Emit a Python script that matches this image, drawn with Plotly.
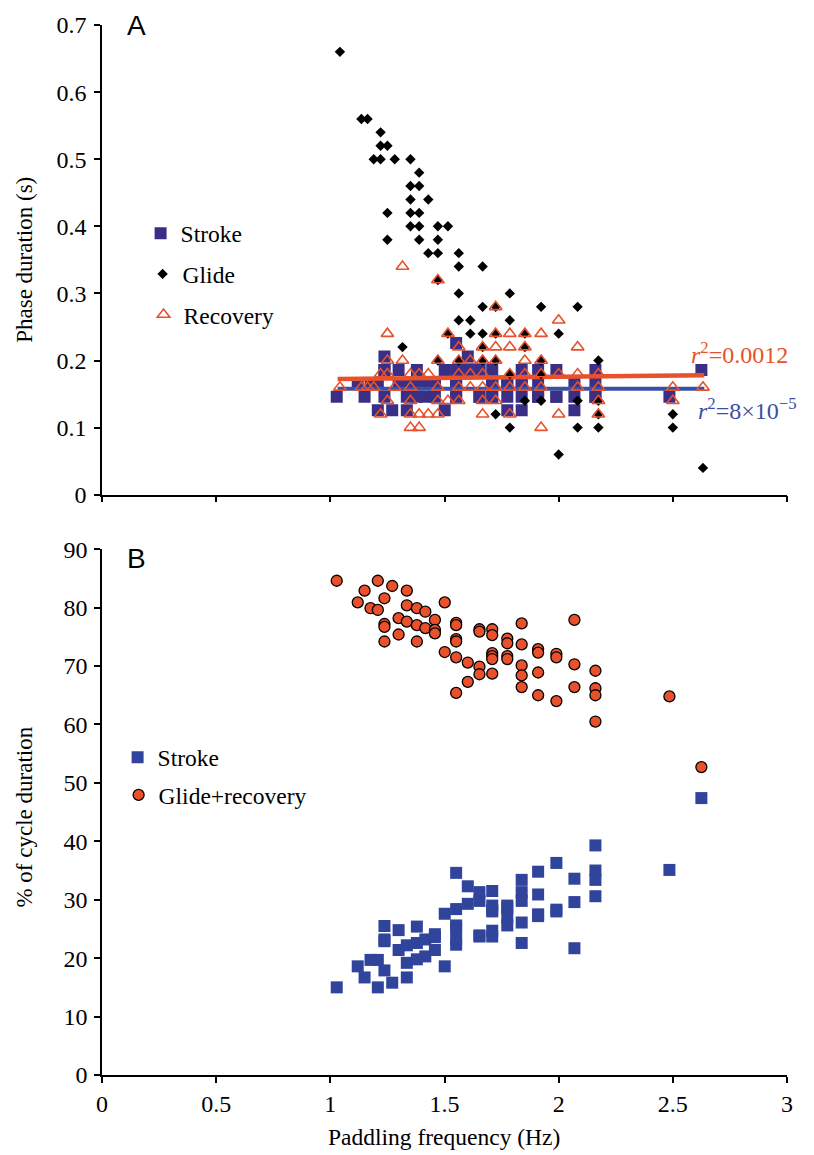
import plotly.graph_objects as go

# ---------------- Panel A data (phase durations, s) ----------------
glide_freq = [1.042,
              1.136, 1.163,
              1.190,
              1.220, 1.220, 1.220,
              1.250, 1.250, 1.250,
              1.282,
              1.316,
              1.351, 1.351, 1.351, 1.351, 1.351,
              1.389, 1.389, 1.389, 1.389, 1.389,
              1.429, 1.429,
              1.471, 1.471, 1.471, 1.471, 1.471,
              1.515, 1.515,
              1.5625, 1.5625, 1.5625, 1.5625, 1.5625,
              1.613, 1.613,
              1.667, 1.667, 1.667, 1.667, 1.667,
              1.724, 1.724, 1.724, 1.724,
              1.786, 1.786, 1.786, 1.786,
              1.852, 1.852, 1.852,
              1.923, 1.923, 1.923, 1.923,
              2.000, 2.000,
              2.083, 2.083, 2.083,
              2.174, 2.174, 2.174, 2.174,
              2.500, 2.500,
              2.632]
glide_dur = [0.66,
             0.56, 0.56,
             0.50,
             0.54, 0.52, 0.50,
             0.52, 0.42, 0.38,
             0.50,
             0.22,
             0.50, 0.46, 0.44, 0.42, 0.40,
             0.48, 0.46, 0.42, 0.40, 0.38,
             0.44, 0.36,
             0.40, 0.38, 0.36, 0.32, 0.20,
             0.40, 0.24,
             0.36, 0.34, 0.30, 0.26, 0.20,
             0.26, 0.24,
             0.34, 0.28, 0.24, 0.22, 0.20,
             0.28, 0.24, 0.20, 0.12,
             0.30, 0.26, 0.18, 0.10,
             0.24, 0.22, 0.14,
             0.28, 0.20, 0.18, 0.14,
             0.24, 0.06,
             0.28, 0.14, 0.10,
             0.20, 0.14, 0.12, 0.10,
             0.12, 0.10,
             0.04]

recovery_freq = [1.042, 1.136, 1.163, 1.190,
                 1.220, 1.220,
                 1.250, 1.250, 1.250, 1.250,
                 1.282,
                 1.316, 1.316,
                 1.351, 1.351, 1.351, 1.351, 1.351,
                 1.389, 1.389, 1.389,
                 1.429, 1.429,
                 1.471, 1.471, 1.471, 1.471, 1.471,
                 1.515, 1.515,
                 1.5625, 1.5625, 1.5625, 1.5625, 1.5625,
                 1.613, 1.613, 1.613,
                 1.667, 1.667, 1.667, 1.667, 1.667, 1.667,
                 1.724, 1.724, 1.724, 1.724, 1.724, 1.724,
                 1.786, 1.786, 1.786, 1.786, 1.786,
                 1.852, 1.852, 1.852, 1.852, 1.852,
                 1.923, 1.923, 1.923, 1.923, 1.923,
                 2.000, 2.000, 2.000,
                 2.083, 2.083, 2.083,
                 2.174, 2.174, 2.174, 2.174,
                 2.500, 2.500,
                 2.632]
recovery_dur = [0.16, 0.16, 0.16, 0.16,
                0.18, 0.12,
                0.24, 0.20, 0.18, 0.14,
                0.16,
                0.34, 0.20,
                0.18, 0.16, 0.14, 0.12, 0.10,
                0.18, 0.12, 0.10,
                0.18, 0.12,
                0.32, 0.20, 0.16, 0.14, 0.12,
                0.24, 0.14,
                0.22, 0.20, 0.18, 0.16, 0.14,
                0.20, 0.18, 0.16,
                0.22, 0.20, 0.18, 0.16, 0.14, 0.12,
                0.28, 0.24, 0.22, 0.20, 0.16, 0.14,
                0.24, 0.22, 0.18, 0.16, 0.12,
                0.24, 0.22, 0.20, 0.18, 0.16,
                0.24, 0.20, 0.18, 0.16, 0.10,
                0.26, 0.18, 0.12,
                0.22, 0.18, 0.16,
                0.18, 0.16, 0.14, 0.12,
                0.16, 0.14,
                0.16]

stroke_freq = [1.028, 1.120, 1.150, 1.176,
               1.208, 1.208,
               1.237, 1.237, 1.237, 1.237,
               1.271,
               1.299, 1.299,
               1.335, 1.335, 1.335,
               1.379, 1.379, 1.379,
               1.416, 1.416,
               1.458, 1.458, 1.458,
               1.501, 1.501,
               1.551, 1.551, 1.551, 1.551, 1.551, 1.551,
               1.602, 1.602,
               1.653, 1.653, 1.653, 1.653,
               1.709, 1.709, 1.709, 1.709, 1.709, 1.709,
               1.775, 1.775, 1.775, 1.775,
               1.838, 1.838, 1.838, 1.838, 1.838,
               1.910, 1.910, 1.910, 1.910,
               1.990, 1.990, 1.990,
               2.069, 2.069, 2.069,
               2.161, 2.161, 2.161, 2.161,
               2.485,
               2.625]
stroke_dur = [0.146, 0.166, 0.146, 0.166,
              0.126, 0.166,
              0.146, 0.186, 0.186, 0.206,
              0.126,
              0.166, 0.186,
              0.126, 0.146, 0.166,
              0.146, 0.166, 0.186,
              0.146, 0.166,
              0.146, 0.166, 0.166,
              0.126, 0.186,
              0.146, 0.146, 0.166, 0.166, 0.186, 0.226,
              0.186, 0.206,
              0.146, 0.146, 0.186, 0.186,
              0.146, 0.146, 0.166, 0.166, 0.166, 0.186,
              0.126, 0.146, 0.166, 0.166,
              0.126, 0.146, 0.166, 0.166, 0.186,
              0.146, 0.146, 0.166, 0.186,
              0.146, 0.146, 0.186,
              0.126, 0.146, 0.166,
              0.146, 0.146, 0.166, 0.186,
              0.146,
              0.186]

fit_freq = [1.032, 2.638]
stroke_fit = [0.158, 0.158]
recovery_fit = [0.1725, 0.178]

# ---------------- Panel B data (% of cycle duration) ----------------
b_freq = [1.028, 1.120, 1.150, 1.176,
          1.208, 1.208,
          1.237, 1.237, 1.237, 1.237,
          1.271,
          1.299, 1.299,
          1.335, 1.335, 1.335,
          1.379, 1.379, 1.379,
          1.416, 1.416,
          1.458, 1.458, 1.458,
          1.501, 1.501,
          1.551, 1.551, 1.551, 1.551, 1.551, 1.551,
          1.602, 1.602,
          1.653, 1.653, 1.653, 1.653,
          1.709, 1.709, 1.709, 1.709, 1.709, 1.709,
          1.775, 1.775, 1.775, 1.775,
          1.838, 1.838, 1.838, 1.838, 1.838,
          1.910, 1.910, 1.910, 1.910,
          1.990, 1.990, 1.990,
          2.069, 2.069, 2.069,
          2.161, 2.161, 2.161, 2.161,
          2.485,
          2.625]
b_glide_recovery = [84.6, 80.9, 82.9, 79.9,
                    84.6, 79.6,
                    81.6, 77.2, 76.7, 74.2,
                    83.7,
                    78.2, 75.4,
                    82.9, 80.4, 77.6,
                    79.9, 77.0, 74.2,
                    79.3, 76.5,
                    77.9, 76.2, 75.6,
                    80.9, 72.4,
                    77.4, 77.0, 74.6, 74.2, 71.5, 65.4,
                    70.6, 67.3,
                    76.3, 75.9, 69.9, 68.6,
                    76.3, 75.3, 72.2, 71.7, 71.2, 68.7,
                    74.7, 73.9, 71.7, 71.2,
                    77.3, 73.7, 70.1, 68.4, 66.4,
                    72.9, 72.3, 68.9, 65.0,
                    72.1, 71.5, 64.0,
                    77.9, 70.3, 66.4,
                    69.2, 66.2, 65.0, 60.5,
                    64.8,
                    52.7]
b_stroke = [15.0, 18.6, 16.7, 19.7,
            15.0, 19.7,
            17.9, 22.9, 23.2, 25.5,
            15.8,
            21.4, 24.8,
            16.7, 19.2, 22.2,
            19.8, 22.6, 25.4,
            20.3, 23.2,
            21.4, 23.6, 24.1,
            18.6, 27.6,
            22.3, 23.3, 25.2, 25.6, 28.4, 34.6,
            29.3, 32.3,
            23.7, 23.9, 29.8, 31.3,
            23.7, 24.7, 28.0, 28.3, 29.0, 31.5,
            25.6, 27.0, 28.6, 29.0,
            22.6, 26.1, 29.8, 31.3, 33.4,
            27.2, 27.5, 30.9, 34.8,
            28.0, 28.3, 36.3,
            21.7, 29.6, 33.6,
            30.6, 33.4, 35.0, 39.3,
            35.1,
            47.4]

x_ticks = [0, 0.5, 1, 1.5, 2, 2.5, 3]
x_ticktext = ["0", "0.5", "1", "1.5", "2", "2.5", "3"]
yA_ticks = [0, 0.1, 0.2, 0.3, 0.4, 0.5, 0.6, 0.7]
yA_ticktext = ["0", "0.1", "0.2", "0.3", "0.4", "0.5", "0.6", "0.7"]
yB_ticks = [0, 10, 20, 30, 40, 50, 60, 70, 80, 90]

# ---------------- styling ----------------
SERIF = "Liberation Serif, Times New Roman, serif"
SANS = "Liberation Sans, Arial, sans-serif"
A_STROKE = "#3a2f86"
B_STROKE = "#2f449a"
ORANGE = "#e8512b"
BLUE_LINE = "#3b4fa3"

W, H = 814, 1155
ML, MR, MT, MB = 102.4, 26.6, 17, 80
PW = W - ML - MR
PH = H - MT - MB


def px_x(px):
    return (px - ML) / PW


def px_y(py):
    return (H - MB - py) / PH


fig = go.Figure()

# Panel A
fig.add_trace(go.Scatter(x=stroke_freq, y=stroke_dur, mode="markers", name="Stroke",
                         marker=dict(symbol="square", size=12, color=A_STROKE),
                         xaxis="x", yaxis="y", legend="legend"))
fig.add_trace(go.Scatter(x=fit_freq, y=stroke_fit, mode="lines", showlegend=False,
                         line=dict(color=BLUE_LINE, width=4), xaxis="x", yaxis="y"))
fig.add_trace(go.Scatter(x=fit_freq, y=recovery_fit, mode="lines", showlegend=False,
                         line=dict(color=ORANGE, width=4.5), xaxis="x", yaxis="y"))
fig.add_trace(go.Scatter(x=glide_freq, y=glide_dur, mode="markers", name="Glide",
                         marker=dict(symbol="diamond", size=8, color="black"),
                         xaxis="x", yaxis="y", legend="legend2"))
fig.add_trace(go.Scatter(x=recovery_freq, y=recovery_dur, mode="markers", name="Recovery",
                         marker=dict(symbol="triangle-up-open", size=11, color=ORANGE,
                                     line=dict(width=1.6, color=ORANGE)),
                         xaxis="x", yaxis="y", legend="legend3"))

# Panel B
fig.add_trace(go.Scatter(x=b_freq, y=b_stroke, mode="markers", name="Stroke",
                         marker=dict(symbol="square", size=12, color=B_STROKE),
                         xaxis="x2", yaxis="y2", legend="legend4"))
fig.add_trace(go.Scatter(x=b_freq, y=b_glide_recovery, mode="markers", name="Glide+recovery",
                         marker=dict(symbol="circle", size=11, color=ORANGE,
                                     line=dict(width=1.3, color="black")),
                         xaxis="x2", yaxis="y2", legend="legend5"))

axis_common = dict(showline=True, linecolor="black", linewidth=1.5, ticks="outside",
                   ticklen=6, tickwidth=1.5, tickcolor="black", showgrid=False,
                   zeroline=False, tickfont=dict(family=SERIF, size=24, color="black"))

legend_common = dict(xanchor="left", yanchor="middle", bgcolor="rgba(0,0,0,0)",
                     borderwidth=0, font=dict(family=SERIF, size=23.5, color="black"))

fig.update_layout(
    width=W, height=H,
    margin=dict(l=ML, r=MR, t=MT, b=MB),
    paper_bgcolor="white", plot_bgcolor="white",
    showlegend=True,
    xaxis=dict(domain=[0, 1], range=[0, 3], tickvals=x_ticks, showticklabels=False,
               anchor="y", **axis_common),
    yaxis=dict(domain=[px_y(490.3), 1], range=[0, 0.7], tickvals=yA_ticks,
               ticktext=yA_ticktext, anchor="x", ticklabelstandoff=3, **axis_common),
    xaxis2=dict(domain=[0, 1], range=[0, 3], tickvals=x_ticks, ticktext=x_ticktext,
                anchor="y2", ticklabelstandoff=0, **axis_common),
    yaxis2=dict(domain=[0, px_y(545.2)], range=[0, 90], tickvals=yB_ticks,
                anchor="x2", ticklabelstandoff=2, **axis_common),
    legend=dict(x=px_x(141), y=px_y(227), **legend_common),
    legend2=dict(x=px_x(143), y=px_y(268), **legend_common),
    legend3=dict(x=px_x(144), y=px_y(309), **legend_common),
    legend4=dict(x=px_x(118), y=px_y(755), **legend_common),
    legend5=dict(x=px_x(119), y=px_y(793), **legend_common),
)

annotations = [
    dict(text="A", x=px_x(137), y=px_y(18), xref="paper", yref="paper",
         showarrow=False, font=dict(family=SANS, size=28, color="black"),
         xanchor="center", yanchor="middle"),
    dict(text="B", x=px_x(137), y=px_y(555), xref="paper", yref="paper",
         showarrow=False, font=dict(family=SANS, size=28, color="black"),
         xanchor="center", yanchor="middle"),
    dict(text="Phase duration (s)", x=px_x(25), y=px_y(254), xref="paper", yref="paper",
         showarrow=False, textangle=-90, font=dict(family=SERIF, size=23, color="black"),
         xanchor="center", yanchor="middle"),
    dict(text="% of cycle duration", x=px_x(25), y=px_y(815), xref="paper", yref="paper",
         showarrow=False, textangle=-90, font=dict(family=SERIF, size=23, color="black"),
         xanchor="center", yanchor="middle"),
    dict(text="Paddling frequency (Hz)", x=px_x(444), y=px_y(1137), xref="paper", yref="paper",
         showarrow=False, font=dict(family=SERIF, size=23.5, color="black"),
         xanchor="center", yanchor="middle"),
    dict(text="<i>r</i><sup>2</sup>=0.0012", x=px_x(689), y=px_y(347), xref="paper", yref="paper",
         showarrow=False, font=dict(family=SERIF, size=24, color=ORANGE),
         xanchor="left", yanchor="middle"),
    dict(text="<i>r</i><sup>2</sup>=8×10<sup>−5</sup>", x=px_x(696), y=px_y(404), xref="paper",
         yref="paper", showarrow=False, font=dict(family=SERIF, size=24, color=BLUE_LINE),
         xanchor="left", yanchor="middle"),
]
fig.update_layout(annotations=annotations)

fig.write_html("out.html")
